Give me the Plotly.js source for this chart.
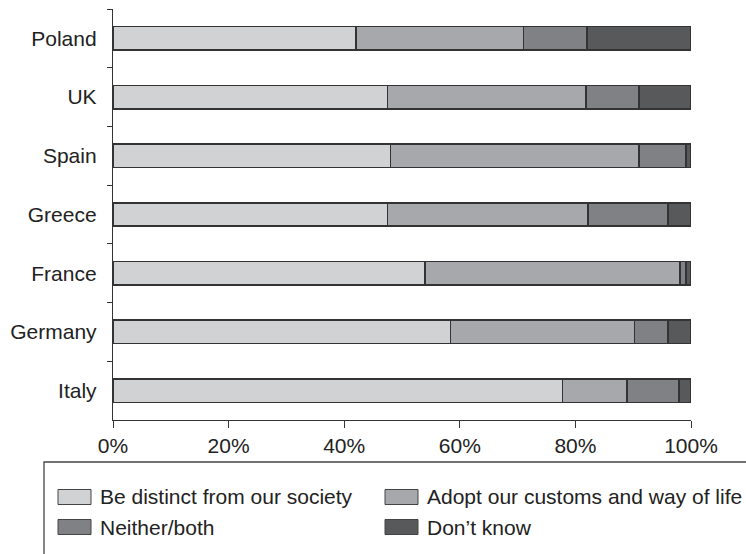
<!DOCTYPE html>
<html>
<head>
<meta charset="utf-8">
<script src="https://cdn.plot.ly/plotly-3.0.1.min.js"></script>
<style>html,body{margin:0;padding:0;background:#fff;}#chart{width:746px;height:554px;}</style>
</head>
<body>
<div id="chart"></div>
<script>
const countries = ["Poland", "UK", "Spain", "Greece", "France", "Germany", "Italy"];
const seriesNames = ["Be distinct from our society", "Adopt our customs and way of life", "Neither/both", "Don\u2019t know"];
const beDistinct = [42, 47.5, 48, 47.5, 54, 58.4, 77.8];
const adoptCustoms = [29, 34.3, 43, 34.7, 44.1, 31.8, 11.1];
const neitherBoth = [11, 9.2, 8.1, 13.8, 1, 5.8, 9];
const dontKnow = [18, 9, 0.9, 4, 0.9, 4, 2.1];
const xTickVals = [0, 20, 40, 60, 80, 100];

const seriesValues = [beDistinct, adoptCustoms, neitherBoth, dontKnow];
const colors = ["#d1d2d4", "#a7a8ab", "#808184", "#58595b"];

const traces = seriesValues.map((vals, i) => ({
  type: "bar",
  orientation: "h",
  name: seriesNames[i],
  y: countries,
  x: vals,
  marker: {color: colors[i], line: {color: "#333333", width: 1.5}},
  hoverinfo: "x+name",
  showlegend: false
}));

// Plot-area geometry in pixels (for converting legend layout to paper coords)
const W = 746, H = 554;
const M = {l: 113, r: 55, t: 9, b: 134};
const pw = W - M.l - M.r, ph = H - M.t - M.b;
const px = v => (v - M.l) / pw;
const py = v => (H - M.b - v) / ph;

// Custom legend: box, swatches and labels (2 columns x 2 rows)
const shapes = [{
  type: "rect", xref: "paper", yref: "paper",
  x0: px(44), x1: px(770), y0: py(462), y1: py(580),
  line: {color: "#444444", width: 1.3}, fillcolor: "rgba(0,0,0,0)"
}];
const annotations = [];
const colX = [58, 385];
const rowY = [497, 527];
seriesNames.forEach((name, i) => {
  const cx = colX[i % 2], cy = rowY[Math.floor(i / 2)];
  shapes.push({
    type: "rect", xref: "paper", yref: "paper",
    x0: px(cx), x1: px(cx + 33), y0: py(cy - 7.5), y1: py(cy + 7.5),
    line: {color: "#444444", width: 1}, fillcolor: colors[i]
  });
  annotations.push({
    xref: "paper", yref: "paper", x: px(cx + 40), y: py(cy),
    xanchor: "left", yanchor: "middle", showarrow: false,
    text: name, font: {size: 21, color: "#222222"}
  });
});

const layout = {
  width: W,
  height: H,
  barmode: "stack",
  bargap: 0.6,
  margin: M,
  paper_bgcolor: "#ffffff",
  plot_bgcolor: "#ffffff",
  font: {family: "Liberation Sans, Arial, sans-serif", size: 21, color: "#222222"},
  xaxis: {
    range: [0, 100],
    tickvals: xTickVals,
    ticktext: xTickVals.map(v => v + "%"),
    showgrid: false,
    zeroline: false,
    showline: true,
    linecolor: "#333333",
    linewidth: 1.2,
    ticks: "outside",
    ticklen: 7,
    tickcolor: "#333333",
    tickfont: {size: 21, color: "#222222"},
    fixedrange: true
  },
  yaxis: {
    type: "category",
    categoryorder: "array",
    categoryarray: countries,
    autorange: "reversed",
    showgrid: false,
    zeroline: false,
    showline: true,
    linecolor: "#333333",
    linewidth: 1.2,
    ticks: "outside",
    tickson: "boundaries",
    ticklen: 5,
    tickcolor: "#333333",
    ticklabelstandoff: 11,
    tickfont: {size: 21, color: "#222222"},
    fixedrange: true
  },
  showlegend: false,
  shapes: shapes,
  annotations: annotations
};

Plotly.newPlot("chart", traces, layout, {displayModeBar: false, staticPlot: true});
</script>
</body>
</html>
